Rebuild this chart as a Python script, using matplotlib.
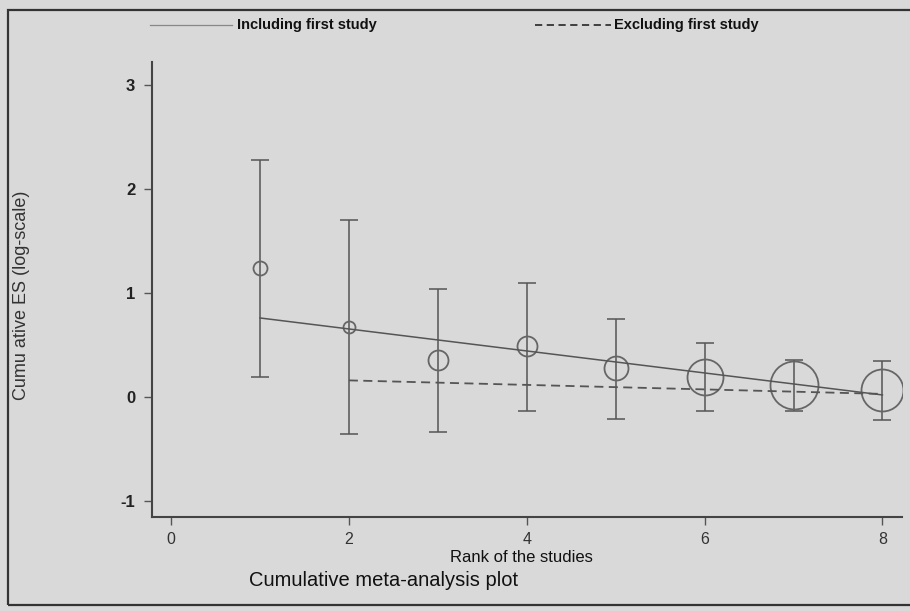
import matplotlib
matplotlib.use("Agg")
import matplotlib.pyplot as plt
from matplotlib.lines import Line2D
from matplotlib.patches import Rectangle
import numpy as np

# ---- data ----
rank = [1, 2, 3, 4, 5, 6, 7, 8]
es = [1.24, 0.67, 0.36, 0.49, 0.28, 0.19, 0.12, 0.07]
ci_low = [0.19, -0.36, -0.34, -0.13, -0.21, -0.13, -0.13, -0.22]
ci_high = [2.28, 1.70, 1.04, 1.10, 0.75, 0.52, 0.36, 0.35]
weights = [7, 6, 10, 10, 12, 18, 24, 21]   # relative marker weights

incl_x = [1, 8]
incl_y = [0.76, 0.02]
excl_x = [2, 8]
excl_y = [0.16, 0.03]

xticks = [0, 2, 4, 6, 8]
yticks = [-1, 0, 1, 2, 3]

BG = "#d9d9d9"
INK = "#555555"
font = ["Liberation Sans", "DejaVu Sans"]

fig = plt.figure(figsize=(9.10, 6.11), dpi=100, facecolor=BG)
ax = fig.add_axes([152/910, 1-517/611, (902-152)/910, (517-62)/611])
ax.set_facecolor(BG)

# error bars
yerr = [np.array(es) - np.array(ci_low), np.array(ci_high) - np.array(es)]
ax.errorbar(rank, es, yerr=yerr, fmt="none", ecolor=INK, elinewidth=1.1,
            capsize=6.5, capthick=1.1, zorder=2)

# circles sized by weight
for x, y, w in zip(rank, es, weights):
    ax.plot([x], [y], marker="o", markersize=2*w*0.72, markerfacecolor="none",
            markeredgecolor="#666666", markeredgewidth=1.3, zorder=3)

ax.plot(incl_x, incl_y, color=INK, lw=1.1, zorder=4)
ax.plot(excl_x, excl_y, color=INK, lw=1.3, ls=(0, (5, 3)), zorder=4)

ax.set_xlim(-0.214, 8.22)
ax.set_ylim(-1.153, 3.22)
ax.set_xticks(xticks)
ax.set_yticks(yticks)
ax.set_xticklabels([str(t) for t in xticks], family=font, fontsize=11.5, color="#333333")
ax.set_yticklabels([str(t) for t in yticks], family=font, fontsize=12,
                   color="#222222", fontweight="bold")
for s in ["top", "right"]:
    ax.spines[s].set_visible(False)
for s in ["left", "bottom"]:
    ax.spines[s].set_color("#444444")
    ax.spines[s].set_linewidth(1.5)
ax.tick_params(axis="both", length=6, width=1, color="#555555")
ax.tick_params(axis="y", pad=6)
ax.tick_params(axis="x", pad=5)

# text
fig.text(22/910, 1-295/611, "Cumu ative ES (log-scale)", rotation=90,
         ha="center", va="center", family=font, fontsize=13, color="#333333")
fig.text(521/910, 1-557/611, "Rank of the studies", ha="center", va="center",
         family=font, fontsize=12, color="#111111")
fig.text(384/910, 1-580/611, "Cumulative meta-analysis plot", ha="center",
         va="center", family=font, fontsize=14.5, color="#111111")

# legend
fig.add_artist(Line2D([150/910, 232/910], [1-25/611, 1-25/611], color="#888888", lw=0.9))
fig.text(237/910, 1-25/611, "Including first study", ha="left", va="center",
         family=font, fontsize=10.5, fontweight="bold", color="#111111")
fig.add_artist(Line2D([535/910, 611/910], [1-25/611, 1-25/611], color="#333333",
                      lw=1.3, ls=(0, (4, 2.5))))
fig.text(614/910, 1-25/611, "Excluding first study", ha="left", va="center",
         family=font, fontsize=10.5, fontweight="bold", color="#111111")

# outer frame
fig.add_artist(Rectangle((8/910, 1-605/611), (910-8)/910 + 0.01, (605-10)/611,
                         transform=fig.transFigure, fill=False,
                         edgecolor="#333333", lw=1.6))

fig.savefig("out.png", dpi=100, facecolor=BG)
